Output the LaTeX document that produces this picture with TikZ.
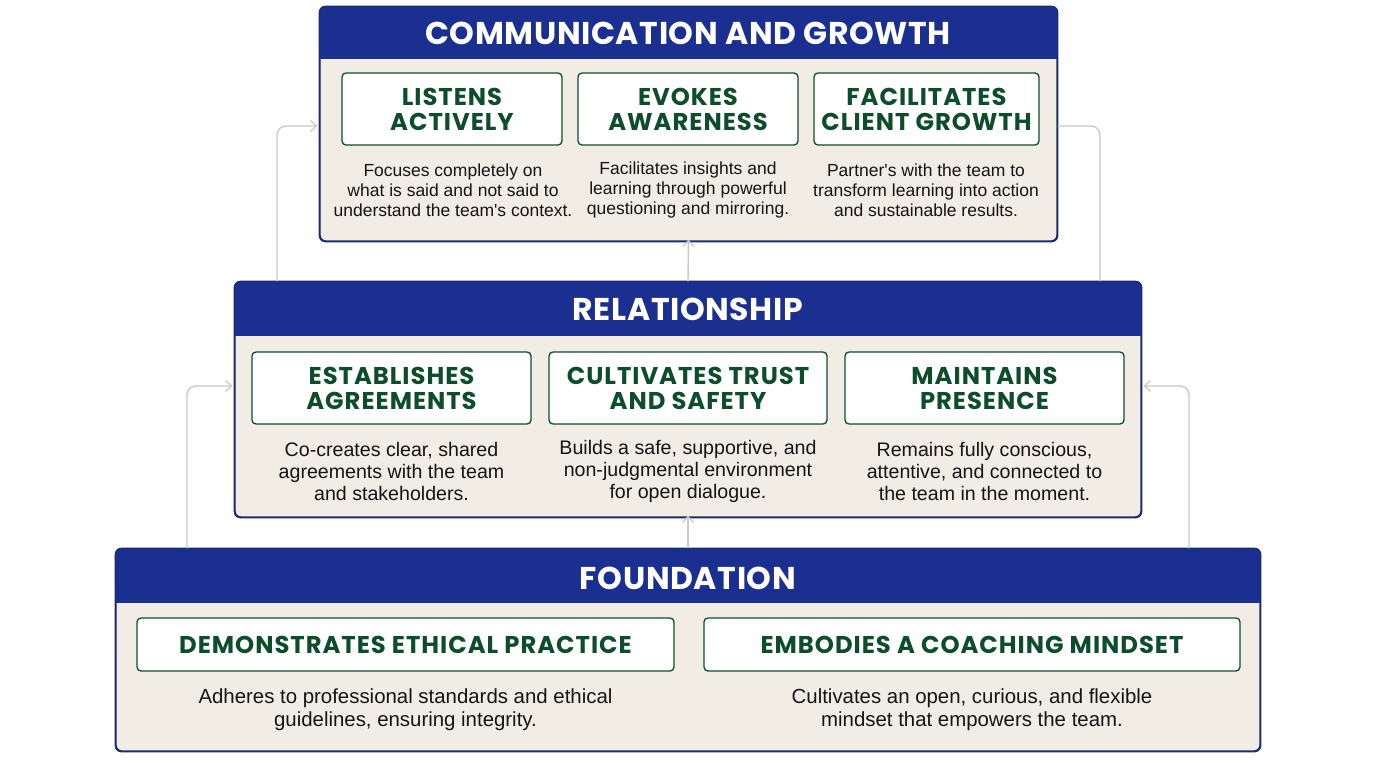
\documentclass[tikz,border=0pt]{standalone}
\usepackage{fontspec}
\setmainfont{Liberation Sans}
\newfontfamily\titlefont{Poppins}[LetterSpace=2]
\newfontfamily\compfont{Poppins}[LetterSpace=4]
\usetikzlibrary{arrows.meta,calc}
\definecolor{hdrblue}{HTML}{1A2F8F}
\definecolor{navy}{HTML}{1C2A6E}
\definecolor{cream}{HTML}{F1EDE4}
\definecolor{dgreen}{HTML}{0E4D2C}
\definecolor{conncol}{HTML}{C9C9C9}
\definecolor{desccol}{HTML}{141414}
\tikzset{
  x=1pt, y=-1pt,
  tier/.style={draw=navy, line width=1.3pt, fill=cream, rounded corners=6pt, inner sep=0pt},
  tiertitle/.style={text=white, font=\titlefont\bfseries\fontsize{31.5}{33}\selectfont},
  compbox/.style={draw=dgreen, line width=1.3pt, fill=white, rounded corners=4pt, inner sep=0pt,
    align=center, text=dgreen, font=\compfont\bfseries\fontsize{24.3}{25}\selectfont},
  desc/.style={align=center, text=desccol, font=\fontsize{17.5}{20}\selectfont, inner sep=0pt},
  descb/.style={desc, font=\fontsize{19.6}{22}\selectfont},
  descc/.style={desc, font=\fontsize{20.4}{23}\selectfont},
  conn/.style={draw=conncol, line width=1.4pt, rounded corners=9pt},
  arr/.style={-{Straight Barb[length=6pt,width=11pt,line width=1.2pt]}}
}
\newcommand{\tierhead}[2]{%
  \begin{scope}
    \clip[rounded corners=6pt] (#1.north west) rectangle (#1.south east);
    \fill[hdrblue] (#1.north west) rectangle ($(#1.north east)+(0,#2)$);
  \end{scope}
  \draw[navy, line width=1.3pt, rounded corners=6pt] (#1.north west) rectangle (#1.south east);
}
\begin{document}
\begin{tikzpicture}
\useasboundingbox[fill=white] (0,0) rectangle (1376,768);

% ---------- tiers ----------
\node[tier, minimum width=737pt, minimum height=234pt] (t1) at (688.5,124) {};
\tierhead{t1}{53}
\node[tier, minimum width=906pt, minimum height=235pt] (t2) at (688,399.5) {};
\tierhead{t2}{55}
\node[tier, minimum width=1144pt, minimum height=202pt] (t3) at (688,650) {};
\tierhead{t3}{55}

\node[tiertitle] (h1) at (688,33) {COMMUNICATION AND GROWTH};
\node[tiertitle] (h2) at (688,309) {RELATIONSHIP};
\node[tiertitle] (h3) at (688,578) {FOUNDATION};

% ---------- tier 1 ----------
\node[compbox, minimum width=220pt, minimum height=72pt] (c11) at (452,109) {LISTENS\\ACTIVELY};
\node[compbox, minimum width=220pt, minimum height=72pt] (c12) at (688,109) {EVOKES\\AWARENESS};
\node[compbox, minimum width=225pt, minimum height=72pt] (c13) at (926.5,109) {FACILITATES\\CLIENT GROWTH};
\node[desc] (d11) at (453,190) {Focuses completely on\\what is said and not said to\\understand the team\textquotesingle s context.};
\node[desc] (d12) at (688,190) {Facilitates insights and\\learning through powerful\\questioning and mirroring.};
\node[desc] (d13) at (926,190) {Partner\textquotesingle s with the team to\\transform learning into action\\and sustainable results.};

% ---------- tier 2 ----------
\node[compbox, minimum width=279pt, minimum height=72pt] (c21) at (391.5,388) {ESTABLISHES\\AGREEMENTS};
\node[compbox, minimum width=278pt, minimum height=72pt] (c22) at (688,388) {CULTIVATES TRUST\\AND SAFETY};
\node[compbox, minimum width=279pt, minimum height=72pt] (c23) at (984.5,388) {MAINTAINS\\PRESENCE};
\node[descb] (d21) at (391.5,471) {Co-creates clear, shared\\agreements with the team\\and stakeholders.};
\node[descb] (d22) at (688,471) {Builds a safe, supportive, and\\non-judgmental environment\\for open dialogue.};
\node[descb] (d23) at (984.5,471) {Remains fully conscious,\\attentive, and connected to\\the team in the moment.};

% ---------- tier 3 ----------
\node[compbox, minimum width=537pt, minimum height=53pt] (c31) at (405.5,644.5) {DEMONSTRATES ETHICAL PRACTICE};
\node[compbox, minimum width=536pt, minimum height=53pt] (c32) at (972,644.5) {EMBODIES A COACHING MINDSET};
\node[descc] (d31) at (405.5,709.5) {Adheres to professional standards and ethical\\guidelines, ensuring integrity.};
\node[descc] (d32) at (972,709.5) {Cultivates an open, curious, and flexible\\mindset that empowers the team.};

% ---------- connectors ----------
\coordinate (lowL) at (187,386);
\coordinate (lowR) at (1189,386);
\coordinate (upL) at (277,126);
\coordinate (upR) at (1100,126);

\draw[conn, arr] (t3.north -| lowL) |- ([xshift=-2pt]t2.west |- lowL);
\draw[conn, arr] (t3.north -| lowR) |- ([xshift=2pt]t2.east |- lowR);
\draw[conn, arr] (t3.north) -- ([yshift=2pt]t2.south);
\draw[conn, arr] (t2.north) -- ([yshift=2pt]t1.south);
\draw[conn, arr] (t2.north -| upL) |- ([xshift=-2pt]t1.west |- upL);
\draw[conn] (t2.north -| upR) |- (t1.east |- upR);
\end{tikzpicture}
\end{document}
